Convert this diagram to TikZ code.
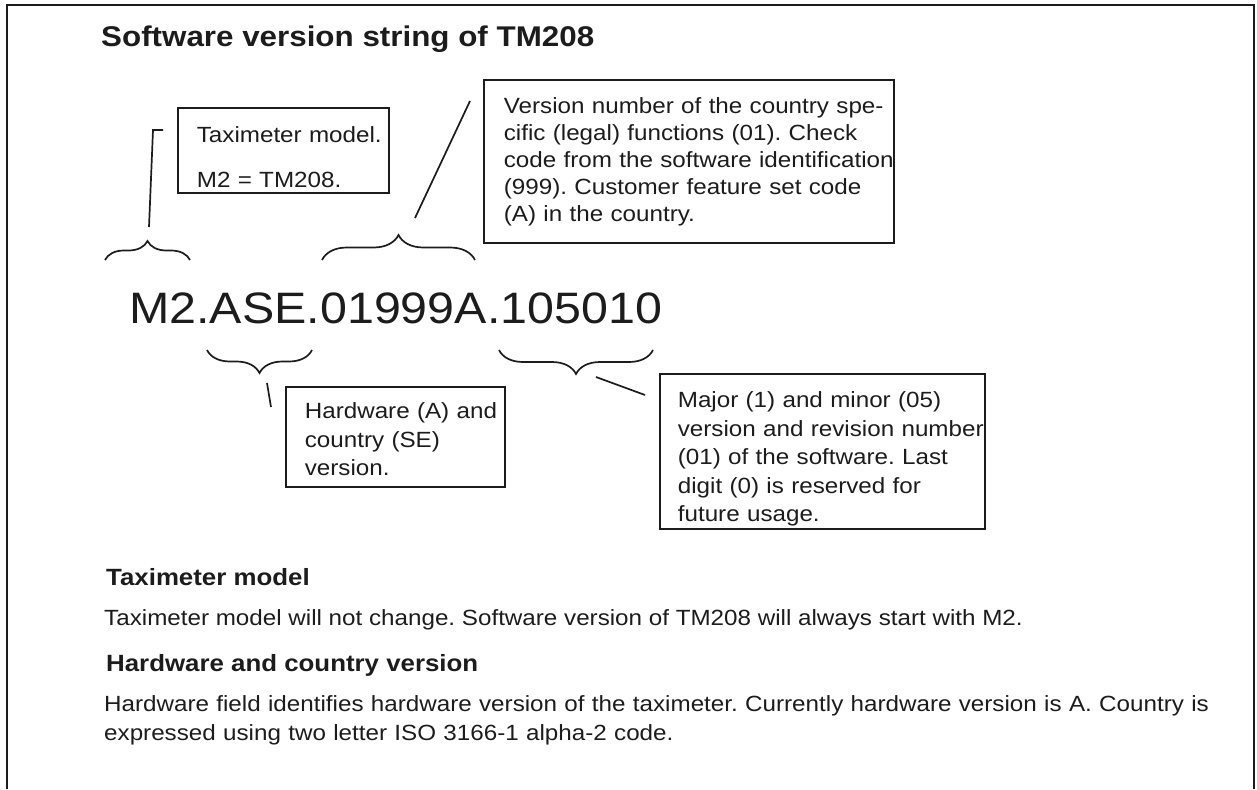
\documentclass[tikz,border=0pt]{standalone}
\usepackage{fontspec}
\setmainfont{Liberation Sans}[FakeStretch=1.1]
\usetikzlibrary{decorations.pathreplacing}
\definecolor{ink}{HTML}{1C1C1C}
\hyphenpenalty=10000
\exhyphenpenalty=10000
\frenchspacing
\begin{document}
\begin{tikzpicture}[x=1pt, y=-1pt, auto,
    callout/.style ={draw=ink, line width=1.7pt, text=ink, align=left, anchor=north west, inner ysep=0pt, font=\fontsize{22}{28.5}\selectfont},
    leader/.style ={draw=ink, line width=1.7pt},
    upbrace/.style ={draw=ink, line width=1.7pt, decorate, decoration={brace, amplitude=#1}},
    downbrace/.style ={draw=ink, line width=1.7pt, decorate, decoration={brace, mirror, amplitude=#1}},
    heading/.style ={anchor=base west, inner sep=0pt, text=ink, font=\bfseries\fontsize{23.5}{28}\selectfont},
    plain/.style ={anchor=base west, inner sep=0pt, text=ink, font=\fontsize{22}{29}\selectfont}]
   \useasboundingbox (0,0) rectangle (1257,789);
   \draw[leader] (7,789) -- (7,5) -- (1254,5) -- (1254,789);

   \node[heading, font=\bfseries\fontsize{28.5}{34}\selectfont] (title) at (101,47) {Software version string of TM208};
   \node[plain, font=\fontsize{44}{50}\selectfont] (version) at (129,323) {M2.ASE.01999A.105010};

   \node[callout, text width=173pt, inner xsep=19pt, text height=35pt, text depth=50pt] (model) at (177,107) {Taximeter~model.\\[16.5pt]M2 = TM208.};
   \node[callout, text width=370pt, inner xsep=20pt, text height=34pt, text depth=129pt, font=\fontsize{22}{26.8}\selectfont] (legal) at (483,79) {Version~number~of~the~country~spe-\\cific (legal) functions (01). Check\\code~from~the~software~identification\\(999).~Customer~feature~set~code\\(A) in the country.};
   \node[callout, text width=181pt, inner xsep=19pt, text height=32pt, text depth=68pt] (hardware) at (285,386) {Hardware~(A)~and\\country (SE)\\version.};
   \node[callout, text width=289pt, inner xsep=18pt, text height=34pt, text depth=121pt] (software) at (659,373) {Major (1) and minor (05)\\version~and~revision~number\\(01) of the software. Last\\digit (0) is reserved for\\future usage.};

   \coordinate (b1l) at (105,260);
   \coordinate (b1r) at (190,260);
   \coordinate (b2l) at (322,260);
   \coordinate (b2r) at (475,260);
   \coordinate (b3l) at (207,350);
   \coordinate (b3r) at (312,350);
   \coordinate (b4l) at (499,350);
   \coordinate (b4r) at (653,350);
   \draw[upbrace=19pt] (b1l) to (b1r);
   \draw[upbrace=25pt] (b2l) to (b2r);
   \draw[downbrace=23pt] (b3l) to (b3r);
   \draw[downbrace=24pt] (b4l) to (b4r);

   \coordinate (m1) at (149,227);
   \coordinate (m2) at (153,130);
   \coordinate (m3) at (163,130);
   \coordinate (c1) at (415,218);
   \coordinate (c2) at (470,101);
   \coordinate (h1) at (267,383);
   \coordinate (h2) at (271,407);
   \coordinate (s1) at (596,377);
   \coordinate (s2) at (645,395);
   \draw[leader] (m1) to (m2) to (m3);
   \draw[leader] (c1) to (c2);
   \draw[leader] (h1) to (h2);
   \draw[leader] (s1) to (s2);

   \node[heading] (modelhead) at (106,585) {Taximeter model};
   \node[plain] (modeltext) at (104,625) {Taximeter model will not change. Software version of TM208 will always start with M2.};
   \node[heading] (hwhead) at (106,671) {Hardware and country version};
   \node[plain, text width=1130pt, align=left] (hwtext) at (104,711) {Hardware field identifies hardware version of the taximeter. Currently hardware version is A. Country is\\expressed using two letter ISO 3166-1 alpha-2 code.};
 \end{tikzpicture}
\end{document}
